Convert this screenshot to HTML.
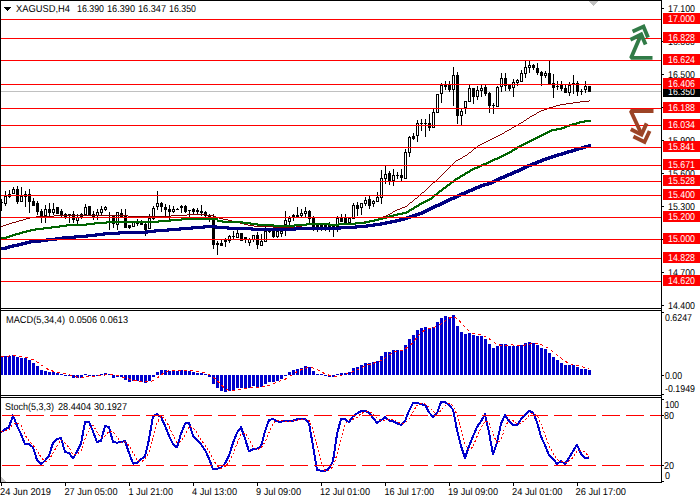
<!DOCTYPE html>
<html><head><meta charset="utf-8"><style>
html,body{margin:0;padding:0;background:#fff;width:700px;height:500px;overflow:hidden}
svg{display:block}
</style></head><body>
<svg width="700" height="500" viewBox="0 0 700 500" shape-rendering="crispEdges" text-rendering="geometricPrecision">
<rect width="700" height="500" fill="#fff"/>
<rect x="1" y="91" width="660" height="1" fill="#c0c0c0"/>
<g fill="#000"><rect x="0" y="199" width="2" height="12"/><rect x="2" y="202" width="1" height="1"/><rect x="5" y="191" width="1" height="15"/><rect x="4" y="196" width="3" height="8"/><rect x="5" y="197" width="1" height="6" fill="#fff"/><rect x="9" y="190" width="1" height="8"/><rect x="8" y="194" width="3" height="3"/><rect x="13" y="187" width="1" height="7"/><rect x="12" y="189" width="3" height="5"/><rect x="13" y="190" width="1" height="3" fill="#fff"/><rect x="17" y="186" width="1" height="18"/><rect x="16" y="189" width="3" height="13"/><rect x="21" y="187" width="1" height="15"/><rect x="20" y="196" width="3" height="6"/><rect x="21" y="197" width="1" height="4" fill="#fff"/><rect x="25" y="191" width="1" height="16"/><rect x="24" y="194" width="3" height="3"/><rect x="29" y="189" width="1" height="24"/><rect x="28" y="194" width="3" height="8"/><rect x="33" y="198" width="1" height="8"/><rect x="32" y="201" width="3" height="5"/><rect x="37" y="201" width="1" height="14"/><rect x="36" y="203" width="3" height="9"/><rect x="41" y="209" width="1" height="14"/><rect x="40" y="211" width="3" height="5"/><rect x="45" y="205" width="1" height="18"/><rect x="44" y="209" width="3" height="7"/><rect x="45" y="210" width="1" height="5" fill="#fff"/><rect x="49" y="203" width="1" height="13"/><rect x="48" y="209" width="3" height="4"/><rect x="53" y="203" width="1" height="12"/><rect x="52" y="209" width="3" height="4"/><rect x="53" y="210" width="1" height="2" fill="#fff"/><rect x="57" y="207" width="1" height="7"/><rect x="56" y="207" width="3" height="7"/><rect x="61" y="209" width="1" height="9"/><rect x="60" y="211" width="3" height="5"/><rect x="65" y="213" width="1" height="6"/><rect x="64" y="214" width="3" height="3"/><rect x="69" y="214" width="1" height="9"/><rect x="68" y="214" width="3" height="1"/><rect x="73" y="211" width="1" height="12"/><rect x="72" y="214" width="3" height="6"/><rect x="77" y="214" width="1" height="10"/><rect x="76" y="217" width="3" height="4"/><rect x="77" y="218" width="1" height="2" fill="#fff"/><rect x="81" y="213" width="1" height="6"/><rect x="80" y="214" width="3" height="3"/><rect x="81" y="215" width="1" height="1" fill="#fff"/><rect x="85" y="204" width="1" height="11"/><rect x="84" y="207" width="3" height="8"/><rect x="85" y="208" width="1" height="6" fill="#fff"/><rect x="89" y="206" width="1" height="9"/><rect x="88" y="206" width="3" height="9"/><rect x="93" y="211" width="1" height="9"/><rect x="92" y="214" width="3" height="3"/><rect x="97" y="209" width="1" height="11"/><rect x="96" y="212" width="3" height="4"/><rect x="97" y="213" width="1" height="2" fill="#fff"/><rect x="101" y="206" width="1" height="9"/><rect x="100" y="209" width="3" height="4"/><rect x="101" y="210" width="1" height="2" fill="#fff"/><rect x="105" y="206" width="1" height="5"/><rect x="104" y="207" width="3" height="3"/><rect x="105" y="208" width="1" height="1" fill="#fff"/><rect x="109" y="212" width="1" height="18"/><rect x="108" y="217" width="3" height="1"/><rect x="113" y="215" width="1" height="13"/><rect x="112" y="216" width="3" height="8"/><rect x="117" y="212" width="1" height="18"/><rect x="116" y="212" width="3" height="13"/><rect x="117" y="213" width="1" height="11" fill="#fff"/><rect x="121" y="209" width="1" height="9"/><rect x="120" y="213" width="3" height="4"/><rect x="125" y="209" width="1" height="19"/><rect x="124" y="216" width="3" height="12"/><rect x="129" y="225" width="1" height="4"/><rect x="128" y="225" width="3" height="3"/><rect x="133" y="221" width="1" height="6"/><rect x="132" y="222" width="3" height="5"/><rect x="133" y="223" width="1" height="3" fill="#fff"/><rect x="137" y="219" width="1" height="7"/><rect x="136" y="222" width="3" height="2"/><rect x="141" y="220" width="1" height="5"/><rect x="140" y="223" width="3" height="2"/><rect x="145" y="223" width="1" height="13"/><rect x="144" y="224" width="3" height="6"/><rect x="149" y="214" width="1" height="15"/><rect x="148" y="218" width="3" height="11"/><rect x="149" y="219" width="1" height="9" fill="#fff"/><rect x="153" y="206" width="1" height="14"/><rect x="152" y="208" width="3" height="11"/><rect x="153" y="209" width="1" height="9" fill="#fff"/><rect x="157" y="191" width="1" height="19"/><rect x="156" y="203" width="3" height="4"/><rect x="157" y="204" width="1" height="2" fill="#fff"/><rect x="161" y="202" width="1" height="10"/><rect x="160" y="203" width="3" height="4"/><rect x="165" y="204" width="1" height="13"/><rect x="164" y="207" width="3" height="3"/><rect x="169" y="205" width="1" height="15"/><rect x="168" y="209" width="3" height="3"/><rect x="173" y="206" width="1" height="7"/><rect x="172" y="209" width="3" height="3"/><rect x="173" y="210" width="1" height="1" fill="#fff"/><rect x="177" y="208" width="1" height="2"/><rect x="176" y="209" width="3" height="1"/><rect x="181" y="205" width="1" height="8"/><rect x="180" y="206" width="3" height="2"/><rect x="185" y="205" width="1" height="8"/><rect x="184" y="206" width="3" height="6"/><rect x="189" y="210" width="1" height="7"/><rect x="188" y="210" width="3" height="1"/><rect x="193" y="208" width="1" height="6"/><rect x="192" y="209" width="3" height="3"/><rect x="197" y="208" width="1" height="6"/><rect x="196" y="210" width="3" height="2"/><rect x="201" y="205" width="1" height="11"/><rect x="200" y="211" width="3" height="2"/><rect x="205" y="211" width="1" height="6"/><rect x="204" y="212" width="3" height="4"/><rect x="209" y="214" width="1" height="8"/><rect x="208" y="215" width="3" height="3"/><rect x="213" y="214" width="1" height="35"/><rect x="212" y="217" width="3" height="28"/><rect x="217" y="241" width="1" height="14"/><rect x="216" y="243" width="3" height="2"/><rect x="221" y="239" width="1" height="7"/><rect x="220" y="243" width="3" height="3"/><rect x="225" y="238" width="1" height="9"/><rect x="224" y="240" width="3" height="2"/><rect x="229" y="235" width="1" height="8"/><rect x="228" y="236" width="3" height="5"/><rect x="229" y="237" width="1" height="3" fill="#fff"/><rect x="233" y="231" width="1" height="8"/><rect x="232" y="236" width="3" height="1"/><rect x="237" y="230" width="1" height="8"/><rect x="236" y="233" width="3" height="5"/><rect x="237" y="234" width="1" height="3" fill="#fff"/><rect x="241" y="233" width="1" height="8"/><rect x="240" y="233" width="3" height="8"/><rect x="245" y="237" width="1" height="6"/><rect x="244" y="237" width="3" height="2"/><rect x="249" y="238" width="1" height="8"/><rect x="248" y="239" width="3" height="4"/><rect x="249" y="240" width="1" height="2" fill="#fff"/><rect x="253" y="235" width="1" height="7"/><rect x="252" y="235" width="3" height="5"/><rect x="253" y="236" width="1" height="3" fill="#fff"/><rect x="257" y="232" width="1" height="17"/><rect x="256" y="235" width="3" height="10"/><rect x="261" y="234" width="1" height="12"/><rect x="260" y="241" width="3" height="5"/><rect x="261" y="242" width="1" height="3" fill="#fff"/><rect x="265" y="227" width="1" height="15"/><rect x="264" y="231" width="3" height="11"/><rect x="265" y="232" width="1" height="9" fill="#fff"/><rect x="269" y="229" width="1" height="4"/><rect x="268" y="231" width="3" height="1"/><rect x="273" y="231" width="1" height="7"/><rect x="272" y="231" width="3" height="6"/><rect x="277" y="231" width="1" height="7"/><rect x="276" y="231" width="3" height="6"/><rect x="277" y="232" width="1" height="4" fill="#fff"/><rect x="281" y="230" width="1" height="7"/><rect x="280" y="231" width="3" height="3"/><rect x="281" y="232" width="1" height="1" fill="#fff"/><rect x="285" y="211" width="1" height="25"/><rect x="284" y="220" width="3" height="5"/><rect x="285" y="221" width="1" height="3" fill="#fff"/><rect x="289" y="216" width="1" height="9"/><rect x="288" y="218" width="3" height="4"/><rect x="289" y="219" width="1" height="2" fill="#fff"/><rect x="293" y="214" width="1" height="7"/><rect x="292" y="215" width="3" height="2"/><rect x="297" y="207" width="1" height="10"/><rect x="296" y="215" width="3" height="2"/><rect x="301" y="209" width="1" height="8"/><rect x="300" y="213" width="3" height="3"/><rect x="301" y="214" width="1" height="1" fill="#fff"/><rect x="305" y="207" width="1" height="10"/><rect x="304" y="211" width="3" height="3"/><rect x="305" y="212" width="1" height="1" fill="#fff"/><rect x="309" y="210" width="1" height="14"/><rect x="308" y="211" width="3" height="8"/><rect x="313" y="216" width="1" height="15"/><rect x="312" y="217" width="3" height="10"/><rect x="317" y="224" width="1" height="8"/><rect x="316" y="225" width="3" height="2"/><rect x="321" y="225" width="1" height="6"/><rect x="320" y="225" width="3" height="2"/><rect x="325" y="223" width="1" height="8"/><rect x="324" y="225" width="3" height="2"/><rect x="329" y="222" width="1" height="10"/><rect x="328" y="225" width="3" height="2"/><rect x="333" y="224" width="1" height="13"/><rect x="332" y="226" width="3" height="1"/><rect x="337" y="216" width="1" height="16"/><rect x="336" y="218" width="3" height="9"/><rect x="337" y="219" width="1" height="7" fill="#fff"/><rect x="341" y="214" width="1" height="8"/><rect x="340" y="218" width="3" height="4"/><rect x="345" y="214" width="1" height="9"/><rect x="344" y="218" width="3" height="5"/><rect x="349" y="218" width="1" height="5"/><rect x="348" y="218" width="3" height="5"/><rect x="349" y="219" width="1" height="3" fill="#fff"/><rect x="353" y="203" width="1" height="16"/><rect x="352" y="205" width="3" height="14"/><rect x="353" y="206" width="1" height="12" fill="#fff"/><rect x="357" y="202" width="1" height="14"/><rect x="356" y="205" width="3" height="4"/><rect x="361" y="203" width="1" height="12"/><rect x="360" y="203" width="3" height="5"/><rect x="361" y="204" width="1" height="3" fill="#fff"/><rect x="365" y="197" width="1" height="9"/><rect x="364" y="200" width="3" height="4"/><rect x="365" y="201" width="1" height="2" fill="#fff"/><rect x="369" y="196" width="1" height="13"/><rect x="368" y="199" width="3" height="7"/><rect x="373" y="200" width="1" height="7"/><rect x="372" y="201" width="3" height="3"/><rect x="373" y="202" width="1" height="1" fill="#fff"/><rect x="377" y="192" width="1" height="10"/><rect x="376" y="197" width="3" height="5"/><rect x="377" y="198" width="1" height="3" fill="#fff"/><rect x="381" y="170" width="1" height="34"/><rect x="380" y="178" width="3" height="20"/><rect x="381" y="179" width="1" height="18" fill="#fff"/><rect x="385" y="166" width="1" height="18"/><rect x="384" y="174" width="3" height="5"/><rect x="385" y="175" width="1" height="3" fill="#fff"/><rect x="389" y="171" width="1" height="14"/><rect x="388" y="173" width="3" height="9"/><rect x="393" y="169" width="1" height="17"/><rect x="392" y="175" width="3" height="6"/><rect x="393" y="176" width="1" height="4" fill="#fff"/><rect x="397" y="172" width="1" height="7"/><rect x="396" y="175" width="3" height="1"/><rect x="401" y="169" width="1" height="12"/><rect x="400" y="175" width="3" height="3"/><rect x="405" y="149" width="1" height="30"/><rect x="404" y="152" width="3" height="27"/><rect x="405" y="153" width="1" height="25" fill="#fff"/><rect x="409" y="136" width="1" height="21"/><rect x="408" y="137" width="3" height="16"/><rect x="409" y="138" width="1" height="14" fill="#fff"/><rect x="413" y="133" width="1" height="7"/><rect x="412" y="136" width="3" height="3"/><rect x="417" y="120" width="1" height="22"/><rect x="416" y="123" width="3" height="13"/><rect x="417" y="124" width="1" height="11" fill="#fff"/><rect x="421" y="119" width="1" height="12"/><rect x="420" y="123" width="3" height="1"/><rect x="425" y="119" width="1" height="18"/><rect x="424" y="123" width="3" height="1"/><rect x="429" y="114" width="1" height="17"/><rect x="428" y="123" width="3" height="5"/><rect x="433" y="109" width="1" height="19"/><rect x="432" y="112" width="3" height="16"/><rect x="433" y="113" width="1" height="14" fill="#fff"/><rect x="437" y="94" width="1" height="19"/><rect x="436" y="94" width="3" height="19"/><rect x="437" y="95" width="1" height="17" fill="#fff"/><rect x="441" y="83" width="1" height="20"/><rect x="440" y="85" width="3" height="9"/><rect x="441" y="86" width="1" height="7" fill="#fff"/><rect x="445" y="81" width="1" height="9"/><rect x="444" y="85" width="3" height="2"/><rect x="449" y="81" width="1" height="11"/><rect x="448" y="85" width="3" height="5"/><rect x="453" y="67" width="1" height="39"/><rect x="452" y="75" width="3" height="15"/><rect x="453" y="76" width="1" height="13" fill="#fff"/><rect x="457" y="72" width="1" height="52"/><rect x="456" y="75" width="3" height="41"/><rect x="461" y="109" width="1" height="16"/><rect x="460" y="111" width="3" height="5"/><rect x="461" y="112" width="1" height="3" fill="#fff"/><rect x="465" y="101" width="1" height="13"/><rect x="464" y="101" width="3" height="7"/><rect x="465" y="102" width="1" height="5" fill="#fff"/><rect x="469" y="85" width="1" height="17"/><rect x="468" y="88" width="3" height="14"/><rect x="469" y="89" width="1" height="12" fill="#fff"/><rect x="473" y="88" width="1" height="16"/><rect x="472" y="88" width="3" height="9"/><rect x="477" y="86" width="1" height="14"/><rect x="476" y="90" width="3" height="7"/><rect x="477" y="91" width="1" height="5" fill="#fff"/><rect x="481" y="85" width="1" height="12"/><rect x="480" y="88" width="3" height="3"/><rect x="481" y="89" width="1" height="1" fill="#fff"/><rect x="485" y="85" width="1" height="11"/><rect x="484" y="87" width="3" height="7"/><rect x="489" y="92" width="1" height="21"/><rect x="488" y="93" width="3" height="13"/><rect x="493" y="103" width="1" height="11"/><rect x="492" y="105" width="3" height="1"/><rect x="497" y="86" width="1" height="21"/><rect x="496" y="87" width="3" height="20"/><rect x="497" y="88" width="1" height="18" fill="#fff"/><rect x="501" y="73" width="1" height="19"/><rect x="500" y="78" width="3" height="9"/><rect x="501" y="79" width="1" height="7" fill="#fff"/><rect x="505" y="73" width="1" height="18"/><rect x="504" y="78" width="3" height="8"/><rect x="509" y="85" width="1" height="6"/><rect x="508" y="85" width="3" height="4"/><rect x="513" y="79" width="1" height="18"/><rect x="512" y="82" width="3" height="6"/><rect x="513" y="83" width="1" height="4" fill="#fff"/><rect x="517" y="79" width="1" height="7"/><rect x="516" y="80" width="3" height="3"/><rect x="517" y="81" width="1" height="1" fill="#fff"/><rect x="521" y="70" width="1" height="12"/><rect x="520" y="73" width="3" height="9"/><rect x="521" y="74" width="1" height="7" fill="#fff"/><rect x="525" y="61" width="1" height="17"/><rect x="524" y="67" width="3" height="7"/><rect x="525" y="68" width="1" height="5" fill="#fff"/><rect x="529" y="61" width="1" height="12"/><rect x="528" y="65" width="3" height="3"/><rect x="529" y="66" width="1" height="1" fill="#fff"/><rect x="533" y="64" width="1" height="6"/><rect x="532" y="65" width="3" height="3"/><rect x="537" y="63" width="1" height="12"/><rect x="536" y="68" width="3" height="5"/><rect x="541" y="71" width="1" height="15"/><rect x="540" y="72" width="3" height="4"/><rect x="545" y="71" width="1" height="7"/><rect x="544" y="73" width="3" height="3"/><rect x="545" y="74" width="1" height="1" fill="#fff"/><rect x="549" y="61" width="1" height="23"/><rect x="548" y="73" width="3" height="11"/><rect x="553" y="74" width="1" height="24"/><rect x="552" y="83" width="3" height="5"/><rect x="557" y="81" width="1" height="9"/><rect x="556" y="86" width="3" height="1"/><rect x="561" y="81" width="1" height="10"/><rect x="560" y="85" width="3" height="4"/><rect x="565" y="85" width="1" height="8"/><rect x="564" y="88" width="3" height="5"/><rect x="569" y="82" width="1" height="14"/><rect x="568" y="85" width="3" height="8"/><rect x="569" y="86" width="1" height="6" fill="#fff"/><rect x="573" y="75" width="1" height="19"/><rect x="572" y="83" width="3" height="1"/><rect x="577" y="81" width="1" height="15"/><rect x="576" y="83" width="3" height="9"/><rect x="581" y="89" width="1" height="6"/><rect x="580" y="91" width="3" height="1"/><rect x="585" y="81" width="1" height="12"/><rect x="584" y="86" width="3" height="4"/><rect x="585" y="87" width="1" height="2" fill="#fff"/><rect x="589" y="86" width="1" height="6"/><rect x="588" y="86" width="3" height="6"/></g>
<g fill="#800000"><rect x="1" y="226" width="2" height="1"/><rect x="3" y="225" width="3" height="1"/><rect x="6" y="224" width="3" height="1"/><rect x="9" y="223" width="3" height="1"/><rect x="12" y="222" width="4" height="1"/><rect x="16" y="221" width="3" height="1"/><rect x="19" y="220" width="4" height="1"/><rect x="23" y="219" width="3" height="1"/><rect x="26" y="218" width="4" height="1"/><rect x="30" y="217" width="6" height="1"/><rect x="36" y="216" width="18" height="1"/><rect x="54" y="215" width="74" height="1"/><rect x="128" y="216" width="43" height="1"/><rect x="171" y="215" width="16" height="1"/><rect x="187" y="214" width="19" height="1"/><rect x="206" y="215" width="8" height="1"/><rect x="214" y="216" width="2" height="1"/><rect x="216" y="217" width="3" height="1"/><rect x="219" y="218" width="4" height="1"/><rect x="223" y="219" width="5" height="1"/><rect x="228" y="220" width="4" height="1"/><rect x="232" y="221" width="4" height="1"/><rect x="236" y="222" width="4" height="1"/><rect x="240" y="223" width="4" height="1"/><rect x="244" y="224" width="4" height="1"/><rect x="248" y="225" width="6" height="1"/><rect x="254" y="226" width="19" height="1"/><rect x="273" y="227" width="23" height="1"/><rect x="296" y="226" width="6" height="1"/><rect x="302" y="225" width="3" height="1"/><rect x="305" y="224" width="46" height="1"/><rect x="351" y="223" width="6" height="1"/><rect x="357" y="222" width="7" height="1"/><rect x="364" y="221" width="6" height="1"/><rect x="370" y="220" width="4" height="1"/><rect x="374" y="219" width="4" height="1"/><rect x="378" y="218" width="2" height="1"/><rect x="380" y="217" width="3" height="1"/><rect x="383" y="216" width="3" height="1"/><rect x="386" y="215" width="2" height="1"/><rect x="388" y="214" width="2" height="1"/><rect x="390" y="213" width="2" height="1"/><rect x="392" y="212" width="1" height="1"/><rect x="393" y="211" width="2" height="1"/><rect x="395" y="210" width="2" height="1"/><rect x="397" y="209" width="3" height="1"/><rect x="400" y="208" width="2" height="1"/><rect x="402" y="207" width="3" height="1"/><rect x="405" y="206" width="2" height="1"/><rect x="407" y="205" width="1" height="1"/><rect x="408" y="204" width="1" height="1"/><rect x="409" y="203" width="1" height="1"/><rect x="410" y="202" width="2" height="1"/><rect x="412" y="201" width="1" height="1"/><rect x="413" y="200" width="1" height="1"/><rect x="414" y="199" width="1" height="1"/><rect x="415" y="198" width="2" height="1"/><rect x="417" y="197" width="1" height="1"/><rect x="418" y="196" width="1" height="1"/><rect x="419" y="195" width="1" height="1"/><rect x="420" y="194" width="1" height="1"/><rect x="421" y="193" width="1" height="1"/><rect x="422" y="192" width="2" height="1"/><rect x="424" y="191" width="1" height="1"/><rect x="425" y="190" width="1" height="1"/><rect x="426" y="189" width="1" height="1"/><rect x="427" y="188" width="1" height="1"/><rect x="428" y="187" width="1" height="1"/><rect x="429" y="186" width="1" height="1"/><rect x="430" y="185" width="1" height="1"/><rect x="431" y="184" width="1" height="1"/><rect x="432" y="183" width="1" height="1"/><rect x="433" y="182" width="2" height="1"/><rect x="435" y="181" width="1" height="1"/><rect x="436" y="180" width="1" height="1"/><rect x="437" y="179" width="1" height="1"/><rect x="438" y="178" width="1" height="1"/><rect x="439" y="177" width="1" height="1"/><rect x="440" y="176" width="1" height="1"/><rect x="441" y="175" width="1" height="1"/><rect x="442" y="174" width="1" height="1"/><rect x="443" y="173" width="1" height="1"/><rect x="444" y="172" width="1" height="1"/><rect x="445" y="171" width="1" height="1"/><rect x="446" y="170" width="1" height="1"/><rect x="447" y="169" width="1" height="1"/><rect x="448" y="168" width="1" height="1"/><rect x="449" y="167" width="1" height="1"/><rect x="450" y="166" width="1" height="1"/><rect x="451" y="165" width="1" height="1"/><rect x="452" y="164" width="1" height="1"/><rect x="453" y="163" width="1" height="1"/><rect x="454" y="162" width="1" height="1"/><rect x="455" y="161" width="1" height="1"/><rect x="456" y="160" width="2" height="1"/><rect x="458" y="159" width="2" height="1"/><rect x="460" y="158" width="2" height="1"/><rect x="462" y="157" width="1" height="1"/><rect x="463" y="156" width="2" height="1"/><rect x="465" y="155" width="2" height="1"/><rect x="467" y="154" width="1" height="1"/><rect x="468" y="153" width="1" height="1"/><rect x="469" y="152" width="2" height="1"/><rect x="471" y="151" width="1" height="1"/><rect x="472" y="150" width="1" height="1"/><rect x="473" y="149" width="1" height="1"/><rect x="474" y="148" width="2" height="1"/><rect x="476" y="147" width="1" height="1"/><rect x="477" y="146" width="1" height="1"/><rect x="478" y="145" width="2" height="1"/><rect x="480" y="144" width="2" height="1"/><rect x="482" y="143" width="2" height="1"/><rect x="484" y="142" width="2" height="1"/><rect x="486" y="141" width="2" height="1"/><rect x="488" y="140" width="2" height="1"/><rect x="490" y="139" width="2" height="1"/><rect x="492" y="138" width="2" height="1"/><rect x="494" y="137" width="2" height="1"/><rect x="496" y="136" width="2" height="1"/><rect x="498" y="135" width="2" height="1"/><rect x="500" y="134" width="2" height="1"/><rect x="502" y="133" width="2" height="1"/><rect x="504" y="132" width="1" height="1"/><rect x="505" y="131" width="2" height="1"/><rect x="507" y="130" width="2" height="1"/><rect x="509" y="129" width="2" height="1"/><rect x="511" y="128" width="1" height="1"/><rect x="512" y="127" width="2" height="1"/><rect x="514" y="126" width="2" height="1"/><rect x="516" y="125" width="2" height="1"/><rect x="518" y="124" width="1" height="1"/><rect x="519" y="123" width="2" height="1"/><rect x="521" y="122" width="2" height="1"/><rect x="523" y="121" width="1" height="1"/><rect x="524" y="120" width="2" height="1"/><rect x="526" y="119" width="1" height="1"/><rect x="527" y="118" width="2" height="1"/><rect x="529" y="117" width="1" height="1"/><rect x="530" y="116" width="2" height="1"/><rect x="532" y="115" width="2" height="1"/><rect x="534" y="114" width="2" height="1"/><rect x="536" y="113" width="1" height="1"/><rect x="537" y="112" width="2" height="1"/><rect x="539" y="111" width="2" height="1"/><rect x="541" y="110" width="3" height="1"/><rect x="544" y="109" width="3" height="1"/><rect x="547" y="108" width="2" height="1"/><rect x="549" y="107" width="4" height="1"/><rect x="553" y="106" width="3" height="1"/><rect x="556" y="105" width="4" height="1"/><rect x="560" y="104" width="6" height="1"/><rect x="566" y="103" width="7" height="1"/><rect x="573" y="102" width="7" height="1"/><rect x="580" y="101" width="9" height="1"/><rect x="589" y="100" width="1" height="1"/></g>
<g fill="#006400"><rect x="1" y="237" width="5" height="2"/><rect x="6" y="236" width="1" height="3"/><rect x="7" y="236" width="2" height="2"/><rect x="9" y="235" width="1" height="3"/><rect x="10" y="235" width="2" height="2"/><rect x="12" y="234" width="1" height="3"/><rect x="13" y="234" width="2" height="2"/><rect x="15" y="233" width="1" height="3"/><rect x="16" y="233" width="3" height="2"/><rect x="19" y="232" width="1" height="3"/><rect x="20" y="232" width="2" height="2"/><rect x="22" y="231" width="1" height="3"/><rect x="23" y="231" width="3" height="2"/><rect x="26" y="230" width="1" height="3"/><rect x="27" y="230" width="3" height="2"/><rect x="30" y="229" width="1" height="3"/><rect x="31" y="229" width="4" height="2"/><rect x="35" y="228" width="1" height="3"/><rect x="36" y="228" width="7" height="2"/><rect x="43" y="227" width="1" height="3"/><rect x="44" y="227" width="7" height="2"/><rect x="51" y="226" width="1" height="3"/><rect x="52" y="226" width="7" height="2"/><rect x="59" y="225" width="1" height="3"/><rect x="60" y="225" width="6" height="2"/><rect x="66" y="224" width="1" height="3"/><rect x="67" y="224" width="19" height="2"/><rect x="86" y="223" width="1" height="3"/><rect x="87" y="223" width="7" height="2"/><rect x="94" y="222" width="1" height="3"/><rect x="95" y="222" width="11" height="2"/><rect x="106" y="221" width="1" height="3"/><rect x="107" y="221" width="51" height="2"/><rect x="158" y="220" width="1" height="3"/><rect x="159" y="220" width="11" height="2"/><rect x="170" y="219" width="1" height="3"/><rect x="171" y="219" width="10" height="2"/><rect x="181" y="218" width="1" height="3"/><rect x="182" y="218" width="35" height="2"/><rect x="217" y="218" width="1" height="4"/><rect x="218" y="220" width="4" height="2"/><rect x="222" y="220" width="1" height="3"/><rect x="223" y="221" width="19" height="2"/><rect x="242" y="221" width="1" height="3"/><rect x="243" y="222" width="7" height="2"/><rect x="250" y="222" width="1" height="3"/><rect x="251" y="223" width="6" height="2"/><rect x="257" y="223" width="1" height="3"/><rect x="258" y="224" width="15" height="2"/><rect x="273" y="224" width="1" height="3"/><rect x="274" y="225" width="20" height="2"/><rect x="294" y="224" width="1" height="3"/><rect x="295" y="224" width="11" height="2"/><rect x="306" y="223" width="1" height="3"/><rect x="307" y="223" width="22" height="2"/><rect x="329" y="223" width="1" height="3"/><rect x="330" y="224" width="8" height="2"/><rect x="338" y="223" width="1" height="3"/><rect x="339" y="223" width="16" height="2"/><rect x="355" y="222" width="1" height="3"/><rect x="356" y="222" width="9" height="2"/><rect x="365" y="221" width="1" height="3"/><rect x="366" y="221" width="3" height="2"/><rect x="369" y="220" width="1" height="3"/><rect x="370" y="220" width="4" height="2"/><rect x="374" y="219" width="1" height="3"/><rect x="375" y="219" width="3" height="2"/><rect x="378" y="218" width="1" height="3"/><rect x="379" y="218" width="3" height="2"/><rect x="382" y="217" width="1" height="3"/><rect x="383" y="217" width="3" height="2"/><rect x="386" y="216" width="1" height="3"/><rect x="387" y="216" width="2" height="2"/><rect x="389" y="215" width="1" height="3"/><rect x="390" y="215" width="3" height="2"/><rect x="393" y="214" width="1" height="3"/><rect x="394" y="214" width="3" height="2"/><rect x="397" y="213" width="1" height="3"/><rect x="398" y="213" width="4" height="2"/><rect x="402" y="212" width="1" height="3"/><rect x="403" y="212" width="3" height="2"/><rect x="406" y="211" width="1" height="3"/><rect x="407" y="211" width="1" height="2"/><rect x="408" y="210" width="1" height="3"/><rect x="409" y="209" width="1" height="3"/><rect x="410" y="209" width="1" height="2"/><rect x="411" y="208" width="1" height="3"/><rect x="412" y="208" width="1" height="2"/><rect x="413" y="207" width="1" height="3"/><rect x="414" y="206" width="1" height="3"/><rect x="415" y="206" width="1" height="2"/><rect x="416" y="205" width="1" height="3"/><rect x="417" y="205" width="1" height="2"/><rect x="418" y="204" width="1" height="3"/><rect x="419" y="203" width="1" height="3"/><rect x="420" y="203" width="1" height="2"/><rect x="421" y="202" width="1" height="3"/><rect x="422" y="202" width="1" height="2"/><rect x="423" y="201" width="1" height="3"/><rect x="424" y="201" width="1" height="2"/><rect x="425" y="200" width="1" height="3"/><rect x="426" y="200" width="1" height="2"/><rect x="427" y="199" width="1" height="3"/><rect x="428" y="199" width="1" height="2"/><rect x="429" y="198" width="1" height="3"/><rect x="430" y="198" width="1" height="2"/><rect x="431" y="197" width="1" height="3"/><rect x="432" y="196" width="1" height="3"/><rect x="433" y="195" width="1" height="3"/><rect x="434" y="194" width="1" height="3"/><rect x="435" y="194" width="1" height="2"/><rect x="436" y="193" width="1" height="3"/><rect x="437" y="192" width="1" height="3"/><rect x="438" y="191" width="1" height="3"/><rect x="439" y="190" width="1" height="3"/><rect x="440" y="190" width="1" height="2"/><rect x="441" y="189" width="1" height="3"/><rect x="442" y="188" width="1" height="3"/><rect x="443" y="187" width="1" height="3"/><rect x="444" y="187" width="1" height="2"/><rect x="445" y="186" width="1" height="3"/><rect x="446" y="185" width="1" height="3"/><rect x="447" y="184" width="1" height="3"/><rect x="448" y="184" width="1" height="2"/><rect x="449" y="183" width="1" height="3"/><rect x="450" y="182" width="1" height="3"/><rect x="451" y="181" width="1" height="3"/><rect x="452" y="181" width="1" height="2"/><rect x="453" y="180" width="1" height="3"/><rect x="454" y="179" width="1" height="3"/><rect x="455" y="178" width="1" height="3"/><rect x="456" y="178" width="1" height="2"/><rect x="457" y="177" width="1" height="3"/><rect x="458" y="177" width="1" height="2"/><rect x="459" y="176" width="1" height="3"/><rect x="460" y="175" width="1" height="3"/><rect x="461" y="175" width="1" height="2"/><rect x="462" y="174" width="1" height="3"/><rect x="463" y="174" width="1" height="2"/><rect x="464" y="173" width="1" height="3"/><rect x="465" y="172" width="1" height="3"/><rect x="466" y="172" width="1" height="2"/><rect x="467" y="171" width="1" height="3"/><rect x="468" y="171" width="1" height="2"/><rect x="469" y="170" width="1" height="3"/><rect x="470" y="169" width="1" height="3"/><rect x="471" y="169" width="1" height="2"/><rect x="472" y="168" width="1" height="3"/><rect x="473" y="168" width="1" height="2"/><rect x="474" y="167" width="1" height="3"/><rect x="475" y="167" width="2" height="2"/><rect x="477" y="166" width="1" height="3"/><rect x="478" y="166" width="1" height="2"/><rect x="479" y="165" width="1" height="3"/><rect x="480" y="165" width="1" height="2"/><rect x="481" y="164" width="1" height="3"/><rect x="482" y="164" width="1" height="2"/><rect x="483" y="163" width="1" height="3"/><rect x="484" y="163" width="2" height="2"/><rect x="486" y="162" width="1" height="3"/><rect x="487" y="162" width="1" height="2"/><rect x="488" y="161" width="1" height="3"/><rect x="489" y="161" width="1" height="2"/><rect x="490" y="160" width="1" height="3"/><rect x="491" y="160" width="1" height="2"/><rect x="492" y="159" width="1" height="3"/><rect x="493" y="159" width="1" height="2"/><rect x="494" y="158" width="1" height="3"/><rect x="495" y="158" width="2" height="2"/><rect x="497" y="157" width="1" height="3"/><rect x="498" y="157" width="1" height="2"/><rect x="499" y="156" width="1" height="3"/><rect x="500" y="156" width="1" height="2"/><rect x="501" y="155" width="1" height="3"/><rect x="502" y="155" width="1" height="2"/><rect x="503" y="154" width="1" height="3"/><rect x="504" y="154" width="1" height="2"/><rect x="505" y="153" width="1" height="3"/><rect x="506" y="153" width="1" height="2"/><rect x="507" y="152" width="1" height="3"/><rect x="508" y="152" width="1" height="2"/><rect x="509" y="151" width="1" height="3"/><rect x="510" y="151" width="1" height="2"/><rect x="511" y="150" width="1" height="3"/><rect x="512" y="149" width="1" height="3"/><rect x="513" y="149" width="1" height="2"/><rect x="514" y="148" width="1" height="3"/><rect x="515" y="148" width="1" height="2"/><rect x="516" y="147" width="1" height="3"/><rect x="517" y="146" width="1" height="3"/><rect x="518" y="146" width="1" height="2"/><rect x="519" y="145" width="1" height="3"/><rect x="520" y="145" width="1" height="2"/><rect x="521" y="144" width="1" height="3"/><rect x="522" y="144" width="1" height="2"/><rect x="523" y="143" width="1" height="3"/><rect x="524" y="143" width="1" height="2"/><rect x="525" y="142" width="1" height="3"/><rect x="526" y="142" width="1" height="2"/><rect x="527" y="141" width="1" height="3"/><rect x="528" y="141" width="1" height="2"/><rect x="529" y="140" width="1" height="3"/><rect x="530" y="140" width="1" height="2"/><rect x="531" y="139" width="1" height="3"/><rect x="532" y="139" width="1" height="2"/><rect x="533" y="138" width="1" height="3"/><rect x="534" y="138" width="1" height="2"/><rect x="535" y="137" width="1" height="3"/><rect x="536" y="137" width="1" height="2"/><rect x="537" y="136" width="1" height="3"/><rect x="538" y="136" width="1" height="2"/><rect x="539" y="135" width="1" height="3"/><rect x="540" y="135" width="1" height="2"/><rect x="541" y="134" width="1" height="3"/><rect x="542" y="134" width="1" height="2"/><rect x="543" y="133" width="1" height="3"/><rect x="544" y="133" width="1" height="2"/><rect x="545" y="132" width="1" height="3"/><rect x="546" y="132" width="1" height="2"/><rect x="547" y="131" width="1" height="3"/><rect x="548" y="131" width="1" height="2"/><rect x="549" y="130" width="1" height="3"/><rect x="550" y="130" width="1" height="2"/><rect x="551" y="129" width="1" height="3"/><rect x="552" y="129" width="4" height="2"/><rect x="556" y="128" width="1" height="3"/><rect x="557" y="128" width="4" height="2"/><rect x="561" y="127" width="1" height="3"/><rect x="562" y="127" width="2" height="2"/><rect x="564" y="126" width="1" height="3"/><rect x="565" y="126" width="1" height="2"/><rect x="566" y="125" width="1" height="3"/><rect x="567" y="125" width="2" height="2"/><rect x="569" y="124" width="1" height="3"/><rect x="570" y="124" width="2" height="2"/><rect x="572" y="123" width="1" height="3"/><rect x="573" y="123" width="3" height="2"/><rect x="576" y="122" width="1" height="3"/><rect x="577" y="122" width="2" height="2"/><rect x="579" y="121" width="1" height="3"/><rect x="580" y="121" width="4" height="2"/><rect x="584" y="120" width="1" height="3"/><rect x="585" y="120" width="6" height="2"/></g>
<g fill="#000080"><rect x="0" y="247" width="5" height="3"/><rect x="5" y="246" width="2" height="4"/><rect x="7" y="246" width="1" height="3"/><rect x="8" y="245" width="2" height="4"/><rect x="10" y="245" width="2" height="3"/><rect x="12" y="244" width="2" height="4"/><rect x="14" y="244" width="3" height="3"/><rect x="17" y="243" width="2" height="4"/><rect x="19" y="243" width="2" height="3"/><rect x="21" y="242" width="2" height="4"/><rect x="23" y="242" width="2" height="3"/><rect x="25" y="241" width="2" height="4"/><rect x="27" y="241" width="2" height="3"/><rect x="29" y="240" width="2" height="4"/><rect x="31" y="240" width="8" height="3"/><rect x="39" y="239" width="2" height="4"/><rect x="41" y="239" width="5" height="3"/><rect x="46" y="238" width="2" height="4"/><rect x="48" y="238" width="7" height="3"/><rect x="55" y="237" width="2" height="4"/><rect x="57" y="237" width="5" height="3"/><rect x="62" y="236" width="2" height="4"/><rect x="64" y="236" width="10" height="3"/><rect x="74" y="235" width="2" height="4"/><rect x="76" y="235" width="10" height="3"/><rect x="86" y="234" width="2" height="4"/><rect x="88" y="234" width="7" height="3"/><rect x="95" y="233" width="2" height="4"/><rect x="97" y="233" width="6" height="3"/><rect x="103" y="232" width="2" height="4"/><rect x="105" y="232" width="13" height="3"/><rect x="118" y="231" width="2" height="4"/><rect x="120" y="231" width="26" height="3"/><rect x="146" y="230" width="2" height="4"/><rect x="148" y="230" width="6" height="3"/><rect x="154" y="229" width="2" height="4"/><rect x="156" y="229" width="11" height="3"/><rect x="167" y="228" width="2" height="4"/><rect x="169" y="228" width="10" height="3"/><rect x="179" y="227" width="2" height="4"/><rect x="181" y="227" width="10" height="3"/><rect x="191" y="226" width="2" height="4"/><rect x="193" y="226" width="10" height="3"/><rect x="203" y="225" width="2" height="4"/><rect x="205" y="225" width="10" height="3"/><rect x="215" y="225" width="2" height="4"/><rect x="217" y="226" width="10" height="3"/><rect x="227" y="226" width="2" height="4"/><rect x="229" y="227" width="22" height="3"/><rect x="251" y="227" width="2" height="4"/><rect x="253" y="228" width="41" height="3"/><rect x="294" y="227" width="2" height="4"/><rect x="296" y="227" width="43" height="3"/><rect x="339" y="226" width="2" height="4"/><rect x="341" y="226" width="14" height="3"/><rect x="355" y="225" width="2" height="4"/><rect x="357" y="225" width="9" height="3"/><rect x="366" y="224" width="2" height="4"/><rect x="368" y="224" width="5" height="3"/><rect x="373" y="223" width="2" height="4"/><rect x="375" y="223" width="5" height="3"/><rect x="380" y="222" width="2" height="4"/><rect x="382" y="222" width="3" height="3"/><rect x="385" y="221" width="2" height="4"/><rect x="387" y="221" width="3" height="3"/><rect x="390" y="220" width="2" height="4"/><rect x="392" y="220" width="3" height="3"/><rect x="395" y="219" width="2" height="4"/><rect x="397" y="219" width="2" height="3"/><rect x="399" y="218" width="2" height="4"/><rect x="401" y="218" width="2" height="3"/><rect x="403" y="217" width="2" height="4"/><rect x="405" y="217" width="1" height="3"/><rect x="406" y="216" width="2" height="4"/><rect x="408" y="216" width="1" height="3"/><rect x="409" y="215" width="2" height="4"/><rect x="411" y="215" width="1" height="3"/><rect x="412" y="214" width="2" height="4"/><rect x="414" y="214" width="1" height="3"/><rect x="415" y="213" width="2" height="4"/><rect x="417" y="213" width="1" height="3"/><rect x="418" y="212" width="2" height="4"/><rect x="420" y="212" width="1" height="3"/><rect x="421" y="211" width="2" height="4"/><rect x="423" y="210" width="2" height="4"/><rect x="425" y="209" width="2" height="4"/><rect x="427" y="208" width="2" height="4"/><rect x="429" y="207" width="2" height="4"/><rect x="431" y="206" width="2" height="4"/><rect x="433" y="205" width="2" height="4"/><rect x="435" y="204" width="2" height="4"/><rect x="437" y="204" width="1" height="3"/><rect x="438" y="203" width="2" height="4"/><rect x="440" y="202" width="2" height="4"/><rect x="442" y="201" width="2" height="4"/><rect x="444" y="200" width="2" height="4"/><rect x="446" y="199" width="2" height="4"/><rect x="448" y="198" width="2" height="4"/><rect x="450" y="197" width="2" height="4"/><rect x="452" y="197" width="1" height="3"/><rect x="453" y="196" width="2" height="4"/><rect x="455" y="195" width="2" height="4"/><rect x="457" y="194" width="2" height="4"/><rect x="459" y="193" width="2" height="4"/><rect x="461" y="192" width="2" height="4"/><rect x="463" y="192" width="1" height="3"/><rect x="464" y="191" width="2" height="4"/><rect x="466" y="190" width="2" height="4"/><rect x="468" y="189" width="2" height="4"/><rect x="470" y="189" width="1" height="3"/><rect x="471" y="188" width="2" height="4"/><rect x="473" y="187" width="2" height="4"/><rect x="475" y="186" width="2" height="4"/><rect x="477" y="186" width="1" height="3"/><rect x="478" y="185" width="2" height="4"/><rect x="480" y="184" width="2" height="4"/><rect x="482" y="184" width="1" height="3"/><rect x="483" y="183" width="2" height="4"/><rect x="485" y="183" width="2" height="3"/><rect x="487" y="182" width="2" height="4"/><rect x="489" y="182" width="1" height="3"/><rect x="490" y="181" width="2" height="4"/><rect x="492" y="180" width="2" height="4"/><rect x="494" y="179" width="2" height="4"/><rect x="496" y="178" width="2" height="4"/><rect x="498" y="177" width="2" height="4"/><rect x="500" y="176" width="2" height="4"/><rect x="502" y="176" width="1" height="3"/><rect x="503" y="175" width="2" height="4"/><rect x="505" y="174" width="2" height="4"/><rect x="507" y="173" width="2" height="4"/><rect x="509" y="173" width="1" height="3"/><rect x="510" y="172" width="2" height="4"/><rect x="512" y="171" width="2" height="4"/><rect x="514" y="170" width="2" height="4"/><rect x="516" y="170" width="1" height="3"/><rect x="517" y="169" width="2" height="4"/><rect x="519" y="168" width="2" height="4"/><rect x="521" y="167" width="2" height="4"/><rect x="523" y="166" width="2" height="4"/><rect x="525" y="165" width="2" height="4"/><rect x="527" y="164" width="2" height="4"/><rect x="529" y="164" width="1" height="3"/><rect x="530" y="163" width="2" height="4"/><rect x="532" y="162" width="2" height="4"/><rect x="534" y="162" width="1" height="3"/><rect x="535" y="161" width="2" height="4"/><rect x="537" y="160" width="2" height="4"/><rect x="539" y="160" width="1" height="3"/><rect x="540" y="159" width="2" height="4"/><rect x="542" y="158" width="2" height="4"/><rect x="544" y="158" width="1" height="3"/><rect x="545" y="157" width="2" height="4"/><rect x="547" y="157" width="1" height="3"/><rect x="548" y="156" width="2" height="4"/><rect x="550" y="156" width="1" height="3"/><rect x="551" y="155" width="2" height="4"/><rect x="553" y="155" width="1" height="3"/><rect x="554" y="154" width="2" height="4"/><rect x="556" y="154" width="1" height="3"/><rect x="557" y="153" width="2" height="4"/><rect x="559" y="153" width="2" height="3"/><rect x="561" y="152" width="2" height="4"/><rect x="563" y="152" width="1" height="3"/><rect x="564" y="151" width="2" height="4"/><rect x="566" y="151" width="1" height="3"/><rect x="567" y="150" width="2" height="4"/><rect x="569" y="150" width="2" height="3"/><rect x="571" y="149" width="2" height="4"/><rect x="573" y="149" width="1" height="3"/><rect x="574" y="148" width="2" height="4"/><rect x="576" y="148" width="1" height="3"/><rect x="577" y="147" width="2" height="4"/><rect x="579" y="147" width="2" height="3"/><rect x="581" y="146" width="2" height="4"/><rect x="583" y="146" width="1" height="3"/><rect x="584" y="145" width="2" height="4"/><rect x="586" y="145" width="2" height="3"/><rect x="588" y="144" width="2" height="4"/><rect x="590" y="144" width="1" height="3"/></g>
<rect x="1" y="19" width="660" height="1" fill="#ff0000"/>
<rect x="1" y="38" width="660" height="1" fill="#ff0000"/>
<rect x="1" y="60" width="660" height="1" fill="#ff0000"/>
<rect x="1" y="84" width="660" height="1" fill="#ff0000"/>
<rect x="1" y="108" width="660" height="1" fill="#ff0000"/>
<rect x="1" y="125" width="660" height="1" fill="#ff0000"/>
<rect x="1" y="147" width="660" height="1" fill="#ff0000"/>
<rect x="1" y="165" width="660" height="1" fill="#ff0000"/>
<rect x="1" y="181" width="660" height="1" fill="#ff0000"/>
<rect x="1" y="195" width="660" height="1" fill="#ff0000"/>
<rect x="1" y="217" width="660" height="1" fill="#ff0000"/>
<rect x="1" y="239" width="660" height="1" fill="#ff0000"/>
<rect x="1" y="258" width="660" height="1" fill="#ff0000"/>
<rect x="1" y="281" width="660" height="1" fill="#ff0000"/>
<g fill="#0000cd"><rect x="0" y="356" width="3" height="19"/><rect x="4" y="356" width="3" height="19"/><rect x="8" y="356" width="3" height="19"/><rect x="12" y="355" width="3" height="20"/><rect x="16" y="357" width="3" height="18"/><rect x="20" y="358" width="3" height="17"/><rect x="24" y="358" width="3" height="17"/><rect x="28" y="360" width="3" height="15"/><rect x="32" y="363" width="3" height="12"/><rect x="36" y="366" width="3" height="9"/><rect x="40" y="370" width="3" height="5"/><rect x="44" y="371" width="3" height="4"/><rect x="48" y="372" width="3" height="3"/><rect x="52" y="372" width="3" height="3"/><rect x="56" y="373" width="3" height="2"/><rect x="60" y="374" width="3" height="1"/><rect x="64" y="375" width="3" height="1"/><rect x="68" y="375" width="3" height="1"/><rect x="72" y="375" width="3" height="3"/><rect x="76" y="375" width="3" height="3"/><rect x="80" y="375" width="3" height="3"/><rect x="84" y="374" width="3" height="1"/><rect x="88" y="375" width="3" height="1"/><rect x="92" y="375" width="3" height="2"/><rect x="96" y="375" width="3" height="1"/><rect x="100" y="374" width="3" height="1"/><rect x="104" y="373" width="3" height="2"/><rect x="108" y="374" width="3" height="1"/><rect x="112" y="375" width="3" height="3"/><rect x="116" y="375" width="3" height="2"/><rect x="120" y="375" width="3" height="2"/><rect x="124" y="375" width="3" height="5"/><rect x="128" y="375" width="3" height="7"/><rect x="132" y="375" width="3" height="6"/><rect x="136" y="375" width="3" height="6"/><rect x="140" y="375" width="3" height="7"/><rect x="144" y="375" width="3" height="8"/><rect x="148" y="375" width="3" height="6"/><rect x="152" y="375" width="3" height="2"/><rect x="156" y="372" width="3" height="3"/><rect x="160" y="370" width="3" height="5"/><rect x="164" y="370" width="3" height="5"/><rect x="168" y="371" width="3" height="4"/><rect x="172" y="371" width="3" height="4"/><rect x="176" y="371" width="3" height="4"/><rect x="180" y="370" width="3" height="5"/><rect x="184" y="371" width="3" height="4"/><rect x="188" y="371" width="3" height="4"/><rect x="192" y="372" width="3" height="3"/><rect x="196" y="373" width="3" height="2"/><rect x="200" y="373" width="3" height="2"/><rect x="204" y="374" width="3" height="1"/><rect x="208" y="375" width="3" height="2"/><rect x="212" y="375" width="3" height="9"/><rect x="216" y="375" width="3" height="13"/><rect x="220" y="375" width="3" height="16"/><rect x="224" y="375" width="3" height="17"/><rect x="228" y="375" width="3" height="16"/><rect x="232" y="375" width="3" height="15"/><rect x="236" y="375" width="3" height="13"/><rect x="240" y="375" width="3" height="13"/><rect x="244" y="375" width="3" height="13"/><rect x="248" y="375" width="3" height="13"/><rect x="252" y="375" width="3" height="11"/><rect x="256" y="375" width="3" height="13"/><rect x="260" y="375" width="3" height="12"/><rect x="264" y="375" width="3" height="9"/><rect x="268" y="375" width="3" height="7"/><rect x="272" y="375" width="3" height="7"/><rect x="276" y="375" width="3" height="6"/><rect x="280" y="375" width="3" height="4"/><rect x="284" y="375" width="3" height="1"/><rect x="288" y="372" width="3" height="3"/><rect x="292" y="370" width="3" height="5"/><rect x="296" y="369" width="3" height="6"/><rect x="300" y="368" width="3" height="7"/><rect x="304" y="366" width="3" height="9"/><rect x="308" y="367" width="3" height="8"/><rect x="312" y="371" width="3" height="4"/><rect x="316" y="374" width="3" height="1"/><rect x="320" y="374" width="3" height="1"/><rect x="324" y="375" width="3" height="1"/><rect x="328" y="375" width="3" height="2"/><rect x="332" y="375" width="3" height="2"/><rect x="336" y="374" width="3" height="1"/><rect x="340" y="373" width="3" height="2"/><rect x="344" y="373" width="3" height="2"/><rect x="348" y="372" width="3" height="3"/><rect x="352" y="368" width="3" height="7"/><rect x="356" y="367" width="3" height="8"/><rect x="360" y="365" width="3" height="10"/><rect x="364" y="363" width="3" height="12"/><rect x="368" y="363" width="3" height="12"/><rect x="372" y="362" width="3" height="13"/><rect x="376" y="361" width="3" height="14"/><rect x="380" y="356" width="3" height="19"/><rect x="384" y="352" width="3" height="23"/><rect x="388" y="352" width="3" height="23"/><rect x="392" y="350" width="3" height="25"/><rect x="396" y="350" width="3" height="25"/><rect x="400" y="351" width="3" height="24"/><rect x="404" y="345" width="3" height="30"/><rect x="408" y="339" width="3" height="36"/><rect x="412" y="335" width="3" height="40"/><rect x="416" y="330" width="3" height="45"/><rect x="420" y="328" width="3" height="47"/><rect x="424" y="327" width="3" height="48"/><rect x="428" y="329" width="3" height="46"/><rect x="432" y="327" width="3" height="48"/><rect x="436" y="322" width="3" height="53"/><rect x="440" y="318" width="3" height="57"/><rect x="444" y="316" width="3" height="59"/><rect x="448" y="317" width="3" height="58"/><rect x="452" y="315" width="3" height="60"/><rect x="456" y="326" width="3" height="49"/><rect x="460" y="332" width="3" height="43"/><rect x="464" y="334" width="3" height="41"/><rect x="468" y="333" width="3" height="42"/><rect x="472" y="335" width="3" height="40"/><rect x="476" y="336" width="3" height="39"/><rect x="480" y="336" width="3" height="39"/><rect x="484" y="339" width="3" height="36"/><rect x="488" y="344" width="3" height="31"/><rect x="492" y="348" width="3" height="27"/><rect x="496" y="346" width="3" height="29"/><rect x="500" y="344" width="3" height="31"/><rect x="504" y="344" width="3" height="31"/><rect x="508" y="346" width="3" height="29"/><rect x="512" y="346" width="3" height="29"/><rect x="516" y="346" width="3" height="29"/><rect x="520" y="345" width="3" height="30"/><rect x="524" y="343" width="3" height="32"/><rect x="528" y="342" width="3" height="33"/><rect x="532" y="343" width="3" height="32"/><rect x="536" y="345" width="3" height="30"/><rect x="540" y="348" width="3" height="27"/><rect x="544" y="349" width="3" height="26"/><rect x="548" y="353" width="3" height="22"/><rect x="552" y="357" width="3" height="18"/><rect x="556" y="360" width="3" height="15"/><rect x="560" y="363" width="3" height="12"/><rect x="564" y="365" width="3" height="10"/><rect x="568" y="365" width="3" height="10"/><rect x="572" y="365" width="3" height="10"/><rect x="576" y="367" width="3" height="8"/><rect x="580" y="369" width="3" height="6"/><rect x="584" y="369" width="3" height="6"/><rect x="588" y="370" width="3" height="5"/></g>
<polyline points="1,356.0 5,356.0 9,356.0 13,355.8 17,356.0 21,356.5 25,357.0 29,358.2 33,359.8 37,361.8 41,364.8 45,367.5 49,369.8 53,371.2 57,372.0 61,372.8 65,373.8 69,374.8 73,376.0 77,377.0 81,377.5 85,377.0 89,376.5 93,376.2 97,375.8 101,375.8 105,375.0 109,374.2 113,374.8 117,375.5 121,376.5 125,378.0 129,379.0 133,380.0 137,381.0 141,381.5 145,381.8 149,381.8 153,380.8 157,378.2 161,375.0 165,372.2 169,370.8 173,370.5 177,370.8 181,370.8 185,370.8 189,370.8 193,371.0 197,371.8 201,372.2 205,373.0 209,374.2 213,376.9 217,380.5 221,384.7 225,388.4 229,390.3 233,390.9 237,390.2 241,389.2 245,388.5 249,388.0 253,387.5 257,387.5 261,387.2 265,386.3 269,385.4 273,383.8 277,382.2 281,380.8 285,379.3 289,376.8 293,374.1 297,371.8 301,369.8 305,368.2 309,367.5 313,368.0 317,369.6 321,371.6 325,373.8 329,375.2 333,376.0 337,376.0 341,375.2 345,374.2 349,373.0 353,371.5 357,370.0 361,368.0 365,365.8 369,364.5 373,363.2 377,362.2 381,360.5 385,357.8 389,355.2 393,352.5 397,351.0 401,350.8 405,349.0 409,346.2 413,342.5 417,337.2 421,333.0 425,330.0 429,328.5 433,327.8 437,326.2 441,324.0 445,320.8 449,318.2 453,316.5 457,318.5 461,322.5 465,326.8 469,331.2 473,333.5 477,334.5 481,334.9 485,336.4 489,338.7 493,341.7 497,344.2 501,345.5 505,345.5 509,344.9 513,345.0 517,345.6 521,345.8 525,345.1 529,344.1 533,343.4 537,343.4 541,344.6 545,346.4 549,348.8 553,351.8 557,354.8 561,358.2 565,361.2 569,363.2 573,364.6 577,365.6 581,366.6 585,367.6 589,368.8" fill="none" stroke="#ff0000" stroke-width="1" stroke-dasharray="3,3"/>
<polyline points="1,432.1 5,429.3 9,427.1 13,415.4 17,425.7 21,434.3 25,444.3 29,444.3 33,447.1 37,460 41,464.3 45,460.7 49,455.7 53,442.9 57,439.3 61,437.9 65,452.1 69,452.9 73,458.6 77,451.4 81,443.6 85,422.1 89,422.1 93,431.4 97,442.1 101,440.7 105,426 109,426.9 113,442.1 117,442.6 121,442.1 125,441.1 129,452.9 133,463.6 137,462.9 141,459.3 145,456.4 149,439.3 153,416.4 157,414.3 161,417.1 165,425.7 169,435.7 173,444.3 177,447.4 181,433.6 185,423.6 189,422.9 193,435.7 197,440 201,444.3 205,450 209,458.6 213,469.3 217,468.8 221,467.5 225,463.5 229,455.7 233,442.9 237,432.9 241,427.1 245,438.6 249,451.4 253,449.3 257,448.6 261,446.4 265,431.4 269,420 273,418.9 277,421.4 281,421.7 285,421.1 289,420.7 293,420.7 297,419.3 301,418.9 305,418.9 309,423.6 313,445.7 317,470 321,470.7 325,470.7 329,468.6 333,461 337,434.3 341,418.9 345,419.3 349,422.1 353,416.4 357,413.6 361,411.1 365,410.7 369,412.9 373,417.9 377,422.9 381,420.4 385,416.9 389,420.4 393,421.2 397,423.3 401,424.9 405,421.2 409,410.8 413,403.1 417,402.8 421,404.4 425,404.7 429,412.4 433,416.9 437,413.2 441,402 445,402 449,405.2 453,409.5 457,430 461,446 465,458 469,446 473,436.4 477,427 481,421.2 485,414.3 489,432.3 493,454.6 497,442.6 501,423.7 505,414.8 509,421.2 513,425.4 517,425.4 521,419.4 525,415.2 529,410.9 533,412.6 537,422 541,436.6 545,445.2 549,455.5 553,458.9 557,464 561,461.1 565,464 569,458 573,451.2 577,444.7 581,453.7 585,458 589,458" fill="none" stroke="#0000cd" stroke-width="2" stroke-linejoin="round"/>
<polyline points="1,432.1 5,430.7 9,429.5 13,423.9 17,422.7 21,425.1 25,434.8 29,441.0 33,445.2 37,450.5 41,457.1 45,461.7 49,460.2 53,453.1 57,446.0 61,440.0 65,443.1 69,447.6 73,454.5 77,454.3 81,451.2 85,439.0 89,429.3 93,425.2 97,431.9 101,438.1 105,436.3 109,431.2 113,431.7 117,437.2 121,442.3 125,441.9 129,445.4 133,452.5 137,459.8 141,461.9 145,459.5 149,451.7 153,437.4 157,423.3 161,415.9 165,419.0 169,426.2 173,435.2 177,442.5 181,441.8 185,434.9 189,426.7 193,427.4 197,432.9 201,440.0 205,444.8 209,451.0 213,459.3 217,465.6 221,468.5 225,466.6 229,462.2 233,454.0 237,443.8 241,434.3 245,432.9 249,439.0 253,446.4 257,449.8 261,448.1 265,442.1 269,432.6 273,423.4 277,420.1 281,420.7 285,421.4 289,421.2 293,420.8 297,420.2 301,419.6 305,419.0 309,420.5 313,429.4 317,446.4 321,462.1 325,470.5 329,470.0 333,466.8 337,454.6 341,438.1 345,424.2 349,420.1 353,419.3 357,417.4 361,413.7 365,411.8 369,411.6 373,413.8 377,417.9 381,420.4 385,420.1 389,419.2 393,419.5 397,421.6 401,423.1 405,423.1 409,419.0 413,411.7 417,405.6 421,403.4 425,404.0 429,407.2 433,411.3 437,414.2 441,410.7 445,405.7 449,403.1 453,405.6 457,414.9 461,428.5 465,444.7 469,450.0 473,446.8 477,436.5 481,428.2 485,420.8 489,422.6 493,433.7 497,443.2 501,440.3 505,427.0 509,419.9 513,420.5 517,424.0 521,423.4 525,420.0 529,415.2 533,412.9 537,415.2 541,423.7 545,434.6 549,445.8 553,453.2 557,459.5 561,461.3 565,463.0 569,461.0 573,457.7 577,451.3 581,449.9 585,452.1 589,456.6" fill="none" stroke="#ff0000" stroke-width="1" stroke-dasharray="2,2"/>
<line x1="2" y1="415.5" x2="661" y2="415.5" stroke="#ff0000" stroke-width="1" stroke-dasharray="18,6"/>
<line x1="2" y1="465.5" x2="661" y2="465.5" stroke="#ff0000" stroke-width="1" stroke-dasharray="18,6"/>
<g fill="#000"><rect x="0" y="0" width="662" height="1"/><rect x="0" y="0" width="1" height="483"/><rect x="661" y="0" width="1" height="483"/><rect x="0" y="308" width="662" height="1"/><rect x="0" y="310" width="662" height="1"/><rect x="0" y="395" width="662" height="1"/><rect x="0" y="397" width="662" height="1"/><rect x="0" y="482" width="662" height="1"/></g>
<g fill="#000"><rect x="662" y="8" width="2" height="1"/><rect x="662" y="41" width="2" height="1"/><rect x="662" y="74" width="2" height="1"/><rect x="662" y="107" width="2" height="1"/><rect x="662" y="140" width="2" height="1"/><rect x="662" y="173" width="2" height="1"/><rect x="662" y="206" width="2" height="1"/><rect x="662" y="239" width="2" height="1"/><rect x="662" y="272" width="2" height="1"/><rect x="662" y="305" width="2" height="1"/></g>
<g font-family="Liberation Sans, sans-serif"><text x="668" y="12" textLength="27" lengthAdjust="spacingAndGlyphs" fill="#000" font-size="10">17.100</text><text x="668" y="45" textLength="27" lengthAdjust="spacingAndGlyphs" fill="#000" font-size="10">16.800</text><text x="668" y="78" textLength="27" lengthAdjust="spacingAndGlyphs" fill="#000" font-size="10">16.500</text><text x="668" y="111" textLength="27" lengthAdjust="spacingAndGlyphs" fill="#000" font-size="10">16.200</text><text x="668" y="144" textLength="27" lengthAdjust="spacingAndGlyphs" fill="#000" font-size="10">15.900</text><text x="668" y="177" textLength="27" lengthAdjust="spacingAndGlyphs" fill="#000" font-size="10">15.600</text><text x="668" y="210" textLength="27" lengthAdjust="spacingAndGlyphs" fill="#000" font-size="10">15.300</text><text x="668" y="243" textLength="27" lengthAdjust="spacingAndGlyphs" fill="#000" font-size="10">15.000</text><text x="668" y="276" textLength="27" lengthAdjust="spacingAndGlyphs" fill="#000" font-size="10">14.700</text><text x="668" y="309" textLength="27" lengthAdjust="spacingAndGlyphs" fill="#000" font-size="10">14.400</text></g>
<g font-family="Liberation Sans, sans-serif"><rect x="663" y="86" width="37" height="11" fill="#000"/><text x="668" y="95" textLength="27" lengthAdjust="spacingAndGlyphs" fill="#fff" font-size="10">16.350</text><rect x="663" y="13" width="37" height="11" fill="#ff0000"/><text x="668" y="22" textLength="27" lengthAdjust="spacingAndGlyphs" fill="#fff" font-size="10">17.000</text><rect x="663" y="32" width="37" height="11" fill="#ff0000"/><text x="668" y="41" textLength="27" lengthAdjust="spacingAndGlyphs" fill="#fff" font-size="10">16.828</text><rect x="663" y="54" width="37" height="11" fill="#ff0000"/><text x="668" y="63" textLength="27" lengthAdjust="spacingAndGlyphs" fill="#fff" font-size="10">16.624</text><rect x="663" y="78" width="37" height="11" fill="#ff0000"/><text x="668" y="87" textLength="27" lengthAdjust="spacingAndGlyphs" fill="#fff" font-size="10">16.406</text><rect x="663" y="102" width="37" height="11" fill="#ff0000"/><text x="668" y="111" textLength="27" lengthAdjust="spacingAndGlyphs" fill="#fff" font-size="10">16.188</text><rect x="663" y="119" width="37" height="11" fill="#ff0000"/><text x="668" y="128" textLength="27" lengthAdjust="spacingAndGlyphs" fill="#fff" font-size="10">16.034</text><rect x="663" y="141" width="37" height="11" fill="#ff0000"/><text x="668" y="150" textLength="27" lengthAdjust="spacingAndGlyphs" fill="#fff" font-size="10">15.841</text><rect x="663" y="159" width="37" height="11" fill="#ff0000"/><text x="668" y="168" textLength="27" lengthAdjust="spacingAndGlyphs" fill="#fff" font-size="10">15.671</text><rect x="663" y="175" width="37" height="11" fill="#ff0000"/><text x="668" y="184" textLength="27" lengthAdjust="spacingAndGlyphs" fill="#fff" font-size="10">15.528</text><rect x="663" y="189" width="37" height="11" fill="#ff0000"/><text x="668" y="198" textLength="27" lengthAdjust="spacingAndGlyphs" fill="#fff" font-size="10">15.400</text><rect x="663" y="211" width="37" height="11" fill="#ff0000"/><text x="668" y="220" textLength="27" lengthAdjust="spacingAndGlyphs" fill="#fff" font-size="10">15.200</text><rect x="663" y="233" width="37" height="11" fill="#ff0000"/><text x="668" y="242" textLength="27" lengthAdjust="spacingAndGlyphs" fill="#fff" font-size="10">15.000</text><rect x="663" y="252" width="37" height="11" fill="#ff0000"/><text x="668" y="261" textLength="27" lengthAdjust="spacingAndGlyphs" fill="#fff" font-size="10">14.828</text><rect x="663" y="275" width="37" height="11" fill="#ff0000"/><text x="668" y="284" textLength="27" lengthAdjust="spacingAndGlyphs" fill="#fff" font-size="10">14.620</text></g>
<g fill="#000"><rect x="1" y="483" width="1" height="3"/><rect x="65" y="483" width="1" height="3"/><rect x="129" y="483" width="1" height="3"/><rect x="193" y="483" width="1" height="3"/><rect x="257" y="483" width="1" height="3"/><rect x="321" y="483" width="1" height="3"/><rect x="385" y="483" width="1" height="3"/><rect x="449" y="483" width="1" height="3"/><rect x="513" y="483" width="1" height="3"/><rect x="577" y="483" width="1" height="3"/></g>
<g font-family="Liberation Sans, sans-serif"><polygon points="4,7 11,7 7.5,11" fill="#000"/><text x="16" y="12" textLength="54" lengthAdjust="spacingAndGlyphs" fill="#000" font-size="10">XAGUSD,H4</text><text x="77" y="12" textLength="27" lengthAdjust="spacingAndGlyphs" fill="#000" font-size="10">16.390</text><text x="107" y="12" textLength="28" lengthAdjust="spacingAndGlyphs" fill="#000" font-size="10">16.390</text><text x="138" y="12" textLength="28" lengthAdjust="spacingAndGlyphs" fill="#000" font-size="10">16.347</text><text x="169" y="12" textLength="27" lengthAdjust="spacingAndGlyphs" fill="#000" font-size="10">16.350</text><text x="6" y="323" textLength="59" lengthAdjust="spacingAndGlyphs" fill="#000" font-size="10">MACD(5,34,4)</text><text x="69" y="323" textLength="28" lengthAdjust="spacingAndGlyphs" fill="#000" font-size="10">0.0506</text><text x="100" y="323" textLength="28" lengthAdjust="spacingAndGlyphs" fill="#000" font-size="10">0.0613</text><text x="5" y="410" textLength="49" lengthAdjust="spacingAndGlyphs" fill="#000" font-size="10">Stoch(5,3,3)</text><text x="58" y="410" textLength="33" lengthAdjust="spacingAndGlyphs" fill="#000" font-size="10">28.4404</text><text x="94" y="410" textLength="33" lengthAdjust="spacingAndGlyphs" fill="#000" font-size="10">30.1927</text><text x="665" y="321" textLength="27" lengthAdjust="spacingAndGlyphs" fill="#000" font-size="10">0.6247</text><text x="665" y="379" textLength="17" lengthAdjust="spacingAndGlyphs" fill="#000" font-size="10">0.00</text><text x="665" y="392" textLength="30" lengthAdjust="spacingAndGlyphs" fill="#000" font-size="10">-0.1949</text><text x="665" y="408" textLength="14" lengthAdjust="spacingAndGlyphs" fill="#000" font-size="10">100</text><text x="664" y="419" textLength="10" lengthAdjust="spacingAndGlyphs" fill="#000" font-size="10">80</text><text x="664" y="469" textLength="10" lengthAdjust="spacingAndGlyphs" fill="#000" font-size="10">20</text><text x="665" y="479" textLength="5" lengthAdjust="spacingAndGlyphs" fill="#000" font-size="10">0</text><text x="0" y="495" textLength="51" lengthAdjust="spacingAndGlyphs" fill="#000" font-size="10">24 Jun 2019</text><text x="64.5" y="495" textLength="53" lengthAdjust="spacingAndGlyphs" fill="#000" font-size="10">27 Jun 05:00</text><text x="128.5" y="495" textLength="44.5" lengthAdjust="spacingAndGlyphs" fill="#000" font-size="10">1 Jul 21:00</text><text x="192" y="495" textLength="45" lengthAdjust="spacingAndGlyphs" fill="#000" font-size="10">4 Jul 13:00</text><text x="256" y="495" textLength="45" lengthAdjust="spacingAndGlyphs" fill="#000" font-size="10">9 Jul 09:00</text><text x="320" y="495" textLength="50" lengthAdjust="spacingAndGlyphs" fill="#000" font-size="10">12 Jul 01:00</text><text x="384.5" y="495" textLength="49.5" lengthAdjust="spacingAndGlyphs" fill="#000" font-size="10">16 Jul 17:00</text><text x="448" y="495" textLength="50" lengthAdjust="spacingAndGlyphs" fill="#000" font-size="10">19 Jul 09:00</text><text x="512" y="495" textLength="50.5" lengthAdjust="spacingAndGlyphs" fill="#000" font-size="10">24 Jul 01:00</text><text x="575.5" y="495" textLength="50.5" lengthAdjust="spacingAndGlyphs" fill="#000" font-size="10">26 Jul 17:00</text></g>
<g fill="#000"><rect x="662" y="312" width="2" height="1"/><rect x="662" y="375" width="2" height="1"/><rect x="662" y="394" width="2" height="1"/><rect x="662" y="399" width="2" height="1"/><rect x="662" y="415" width="2" height="1"/><rect x="662" y="465" width="2" height="1"/><rect x="662" y="481" width="2" height="1"/></g>
<polygon points="589,1 598,1 593.5,6" fill="#c0c0c0"/>
<polygon points="1,477 1,482 6,482" fill="#c8c8c8"/>
<g fill="none" stroke="#317b47" stroke-width="3.85" stroke-linecap="butt" stroke-linejoin="miter" shape-rendering="geometricPrecision"><polyline points="652.5,57.9 631,57.9 641.2,34.2" stroke-linejoin="bevel"/><polyline points="630.4,39.8 641.2,34.4 645.6,44.6"/><polyline points="632.6,31.4 643.5,26.5 648,37.4"/></g>
<g fill="none" stroke="#9c4426" stroke-width="3.85" stroke-linecap="butt" stroke-linejoin="miter" shape-rendering="geometricPrecision"><polyline points="653.5,111 630.8,111 641.5,134" stroke-linejoin="bevel"/><polyline points="630.8,129.2 641.5,134.6 646.6,123.4"/><polyline points="633.4,136.6 644.5,142 649.6,131"/></g>
</svg></body></html>
